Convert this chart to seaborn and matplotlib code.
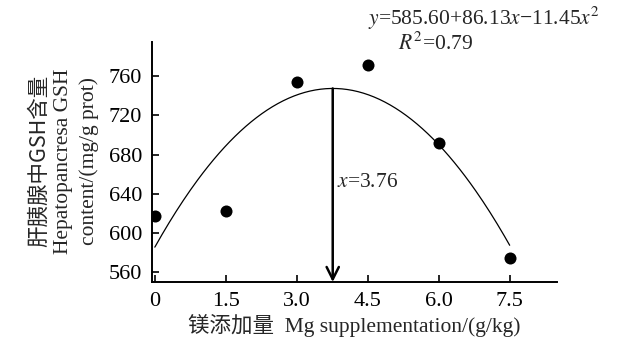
import numpy as np
import pandas as pd
import seaborn as sns
import matplotlib.pyplot as plt

# Data
mg_level = [0.0, 1.5, 3.0, 4.5, 6.0, 7.5]
gsh = [617, 622, 754, 772, 692, 575]
x_ticks = [0, 1.5, 3.0, 4.5, 6.0, 7.5]
x_tick_labels = ["0", "1.5", "3.0", "4.5", "6.0", "7.5"]
y_ticks = [560, 600, 640, 680, 720, 760]
# quadratic fit reported in the figure
fit_coef = [585.60, 86.13, -11.45]
x_opt = 3.76

sns.set_theme(style="ticks")
plt.rcParams['font.family'] = ['Liberation Serif', 'Noto Sans CJK SC', 'DejaVu Sans']
plt.rcParams['mathtext.fontset'] = 'stix'

df = pd.DataFrame({"mg": mg_level, "gsh": gsh})

fig = plt.figure(figsize=(6.37, 3.55), dpi=100)
ax = fig.add_axes([0.2386, 0.2056, 0.6358, 0.6761])

sns.scatterplot(data=df, x="mg", y="gsh", ax=ax, color="black", s=75,
                edgecolor="black", linewidth=0, legend=False)

xs = np.linspace(mg_level[0], mg_level[-1], 200)
ys = fit_coef[0] + fit_coef[1] * xs + fit_coef[2] * xs ** 2
sns.lineplot(x=xs, y=ys, ax=ax, color="black", linewidth=0.9)

ax.set_xlim(-0.06, 8.5)
ax.set_ylim(550, 795)

# arrow from the vertex of the fitted curve down to the x axis
y_top = fit_coef[0] + fit_coef[1] * x_opt + fit_coef[2] * x_opt ** 2
ax.annotate("", xy=(x_opt, 550), xytext=(x_opt, y_top),
            arrowprops=dict(arrowstyle="->", color="black", lw=1.8,
                            mutation_scale=22, shrinkA=0, shrinkB=0))
ax.text(x_opt + 0.1, 652, "$x$=3.76", fontsize=15.5, va="center", ha="left")

ax.set_xticks(x_ticks)
ax.set_xticklabels(x_tick_labels)
ax.set_yticks(y_ticks)
ax.tick_params(direction="in", length=5, width=1.2, labelsize=16,
               colors="black", pad=7)
for side in ["left", "bottom"]:
    ax.spines[side].set_linewidth(1.4)
    ax.spines[side].set_color("black")
sns.despine(ax=ax)

ax.set_xlabel("镁添加量  Mg supplementation/(g/kg)", fontsize=15.5, labelpad=2)
ax.set_ylabel("")
fig.text(0.061, 0.546, "肝胰腺中GSH含量", rotation=90, fontsize=15.5,
         ha="center", va="center", family=['Noto Sans CJK SC', 'Liberation Serif'])
fig.text(0.100, 0.546, "Hepatopancresa GSH", rotation=90, fontsize=15.5,
         ha="center", va="center")
fig.text(0.140, 0.546, "content/(mg/g prot)", rotation=90, fontsize=15.5,
         ha="center", va="center")

fig.text(0.578, 0.948, "$y$=585.60+86.13$x$\u221211.45$x^2$", fontsize=15.5,
         ha="left", va="center")
fig.text(0.625, 0.878, "$R^2$=0.79", fontsize=15.5, ha="left", va="center")

fig.savefig("out.png", dpi=100)
